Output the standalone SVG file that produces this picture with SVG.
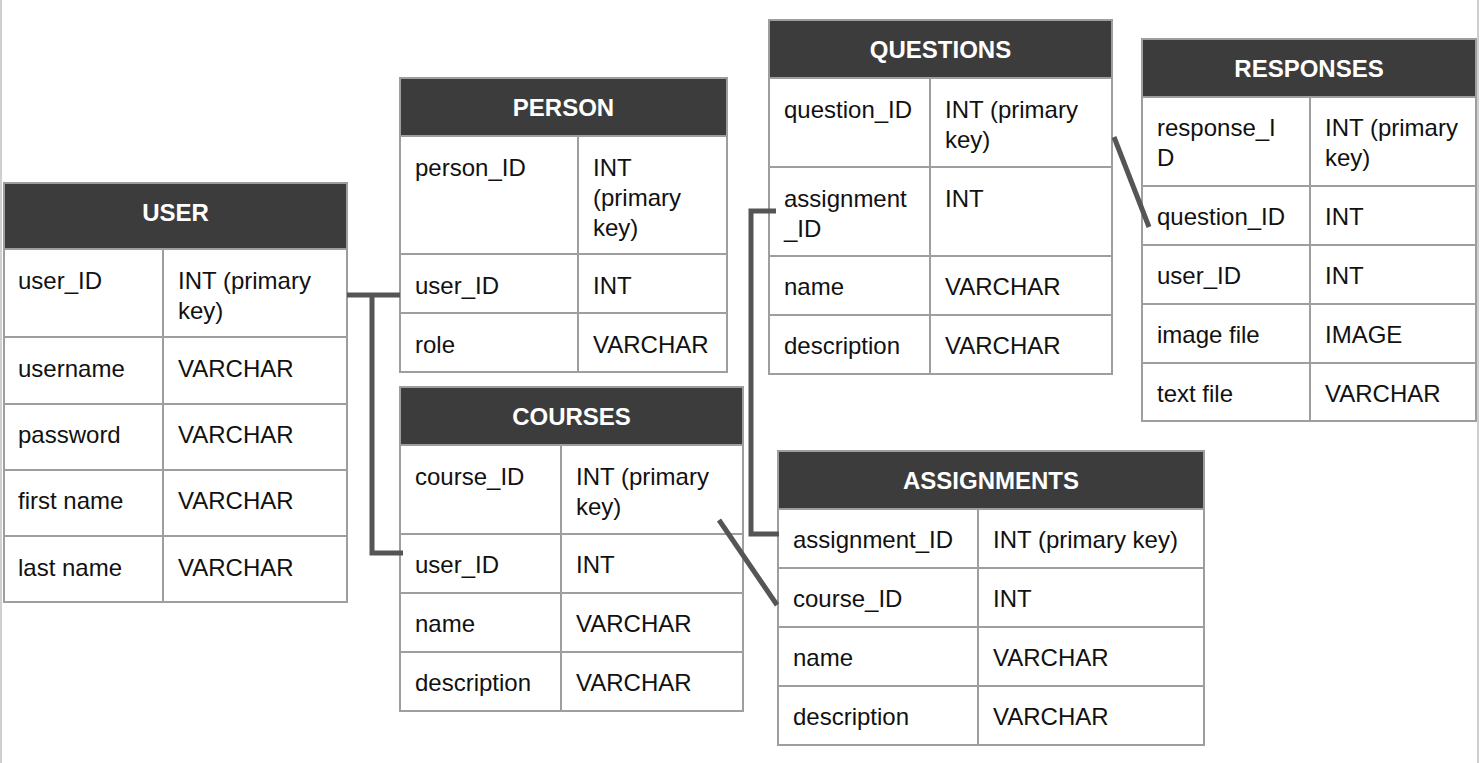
<svg xmlns="http://www.w3.org/2000/svg" width="1480" height="763" viewBox="0 0 1480 763">
<style>
.hd{fill:#3c3c3c;stroke:#9e9e9e;stroke-width:2}
.cell{fill:#fff;stroke:#9e9e9e;stroke-width:2}
.ht{font-family:"Liberation Sans",Arial,sans-serif;font-size:24px;font-weight:bold;fill:#fff;text-anchor:middle}
.t{font-family:"Liberation Sans",Arial,sans-serif;font-size:24px;fill:#111}
.ln{stroke:#555;stroke-width:5;fill:none}
.frame{stroke:#cfcfcf;stroke-width:2}
</style>
<rect width="1480" height="763" fill="#fff"/>
<line class="frame" x1="1" y1="0" x2="1" y2="763"/>
<line class="frame" x1="1478" y1="0" x2="1478" y2="763"/>

<g id="user">
<rect class="hd" x="4" y="183" width="343" height="66"/>
<text class="ht" x="175.5" y="221">USER</text>
<rect class="cell" x="4" y="249" width="159" height="88"/><rect class="cell" x="163" y="249" width="184" height="88"/>
<rect class="cell" x="4" y="337" width="159" height="67"/><rect class="cell" x="163" y="337" width="184" height="67"/>
<rect class="cell" x="4" y="404" width="159" height="66"/><rect class="cell" x="163" y="404" width="184" height="66"/>
<rect class="cell" x="4" y="470" width="159" height="66"/><rect class="cell" x="163" y="470" width="184" height="66"/>
<rect class="cell" x="4" y="536" width="159" height="66"/><rect class="cell" x="163" y="536" width="184" height="66"/>
<text class="t" x="18" y="289">user_ID</text><text class="t" x="178" y="289">INT (primary</text><text class="t" x="178" y="319">key)</text>
<text class="t" x="18" y="377">username</text><text class="t" x="178" y="377">VARCHAR</text>
<text class="t" x="18" y="443">password</text><text class="t" x="178" y="443">VARCHAR</text>
<text class="t" x="18" y="509">first name</text><text class="t" x="178" y="509">VARCHAR</text>
<text class="t" x="18" y="576">last name</text><text class="t" x="178" y="576">VARCHAR</text>
</g>

<g id="person">
<rect class="hd" x="400" y="78" width="327" height="58"/>
<text class="ht" x="563.5" y="116">PERSON</text>
<rect class="cell" x="400" y="136" width="178" height="118"/><rect class="cell" x="578" y="136" width="149" height="118"/>
<rect class="cell" x="400" y="254" width="178" height="59"/><rect class="cell" x="578" y="254" width="149" height="59"/>
<rect class="cell" x="400" y="313" width="178" height="59"/><rect class="cell" x="578" y="313" width="149" height="59"/>
<text class="t" x="415" y="176">person_ID</text><text class="t" x="593" y="176">INT</text><text class="t" x="593" y="206">(primary</text><text class="t" x="593" y="236">key)</text>
<text class="t" x="415" y="294">user_ID</text><text class="t" x="593" y="294">INT</text>
<text class="t" x="415" y="353">role</text><text class="t" x="593" y="353">VARCHAR</text>
</g>

<g id="courses">
<rect class="hd" x="400" y="387" width="343" height="58"/>
<text class="ht" x="571.5" y="425">COURSES</text>
<rect class="cell" x="400" y="445" width="161" height="89"/><rect class="cell" x="561" y="445" width="182" height="89"/>
<rect class="cell" x="400" y="534" width="161" height="59"/><rect class="cell" x="561" y="534" width="182" height="59"/>
<rect class="cell" x="400" y="593" width="161" height="59"/><rect class="cell" x="561" y="593" width="182" height="59"/>
<rect class="cell" x="400" y="652" width="161" height="59"/><rect class="cell" x="561" y="652" width="182" height="59"/>
<text class="t" x="415" y="485">course_ID</text><text class="t" x="576" y="485">INT (primary</text><text class="t" x="576" y="515">key)</text>
<text class="t" x="415" y="573">user_ID</text><text class="t" x="576" y="573">INT</text>
<text class="t" x="415" y="632">name</text><text class="t" x="576" y="632">VARCHAR</text>
<text class="t" x="415" y="691">description</text><text class="t" x="576" y="691">VARCHAR</text>
</g>

<g id="questions">
<rect class="hd" x="769" y="20" width="343" height="58"/>
<text class="ht" x="940.5" y="58">QUESTIONS</text>
<rect class="cell" x="769" y="78" width="161" height="89"/><rect class="cell" x="930" y="78" width="182" height="89"/>
<rect class="cell" x="769" y="167" width="161" height="89"/><rect class="cell" x="930" y="167" width="182" height="89"/>
<rect class="cell" x="769" y="256" width="161" height="59"/><rect class="cell" x="930" y="256" width="182" height="59"/>
<rect class="cell" x="769" y="315" width="161" height="59"/><rect class="cell" x="930" y="315" width="182" height="59"/>
<text class="t" x="784" y="118">question_ID</text><text class="t" x="945" y="118">INT (primary</text><text class="t" x="945" y="148">key)</text>
<text class="t" x="784" y="207">assignment</text><text class="t" x="784" y="237">_ID</text><text class="t" x="945" y="207">INT</text>
<text class="t" x="784" y="295">name</text><text class="t" x="945" y="295">VARCHAR</text>
<text class="t" x="784" y="354">description</text><text class="t" x="945" y="354">VARCHAR</text>
</g>

<g id="responses">
<rect class="hd" x="1142" y="39" width="334" height="58"/>
<text class="ht" x="1309" y="77">RESPONSES</text>
<rect class="cell" x="1142" y="97" width="168" height="89"/><rect class="cell" x="1310" y="97" width="166" height="89"/>
<rect class="cell" x="1142" y="186" width="168" height="59"/><rect class="cell" x="1310" y="186" width="166" height="59"/>
<rect class="cell" x="1142" y="245" width="168" height="59"/><rect class="cell" x="1310" y="245" width="166" height="59"/>
<rect class="cell" x="1142" y="304" width="168" height="59"/><rect class="cell" x="1310" y="304" width="166" height="59"/>
<rect class="cell" x="1142" y="363" width="168" height="58"/><rect class="cell" x="1310" y="363" width="166" height="58"/>
<text class="t" x="1157" y="136">response_I</text><text class="t" x="1157" y="166">D</text><text class="t" x="1325" y="136">INT (primary</text><text class="t" x="1325" y="166">key)</text>
<text class="t" x="1157" y="225">question_ID</text><text class="t" x="1325" y="225">INT</text>
<text class="t" x="1157" y="284">user_ID</text><text class="t" x="1325" y="284">INT</text>
<text class="t" x="1157" y="343">image file</text><text class="t" x="1325" y="343">IMAGE</text>
<text class="t" x="1157" y="402">text file</text><text class="t" x="1325" y="402">VARCHAR</text>
</g>

<g id="assignments">
<rect class="hd" x="778" y="451" width="426" height="58"/>
<text class="ht" x="991" y="489">ASSIGNMENTS</text>
<rect class="cell" x="778" y="509" width="200" height="59"/><rect class="cell" x="978" y="509" width="226" height="59"/>
<rect class="cell" x="778" y="568" width="200" height="59"/><rect class="cell" x="978" y="568" width="226" height="59"/>
<rect class="cell" x="778" y="627" width="200" height="59"/><rect class="cell" x="978" y="627" width="226" height="59"/>
<rect class="cell" x="778" y="686" width="200" height="59"/><rect class="cell" x="978" y="686" width="226" height="59"/>
<text class="t" x="793" y="548">assignment_ID</text><text class="t" x="993" y="548">INT (primary key)</text>
<text class="t" x="793" y="607">course_ID</text><text class="t" x="993" y="607">INT</text>
<text class="t" x="793" y="666">name</text><text class="t" x="993" y="666">VARCHAR</text>
<text class="t" x="793" y="725">description</text><text class="t" x="993" y="725">VARCHAR</text>
</g>

<g id="connectors">
<polyline class="ln" points="347,295 400,295"/>
<polyline class="ln" points="372,295 372,553 403,553"/>
<polyline class="ln" points="776,211 751,211 751,534 779,534"/>
<line class="ln" x1="719" y1="520" x2="777" y2="605"/>
<line class="ln" x1="1114" y1="137" x2="1149" y2="227"/>
</g>
</svg>
